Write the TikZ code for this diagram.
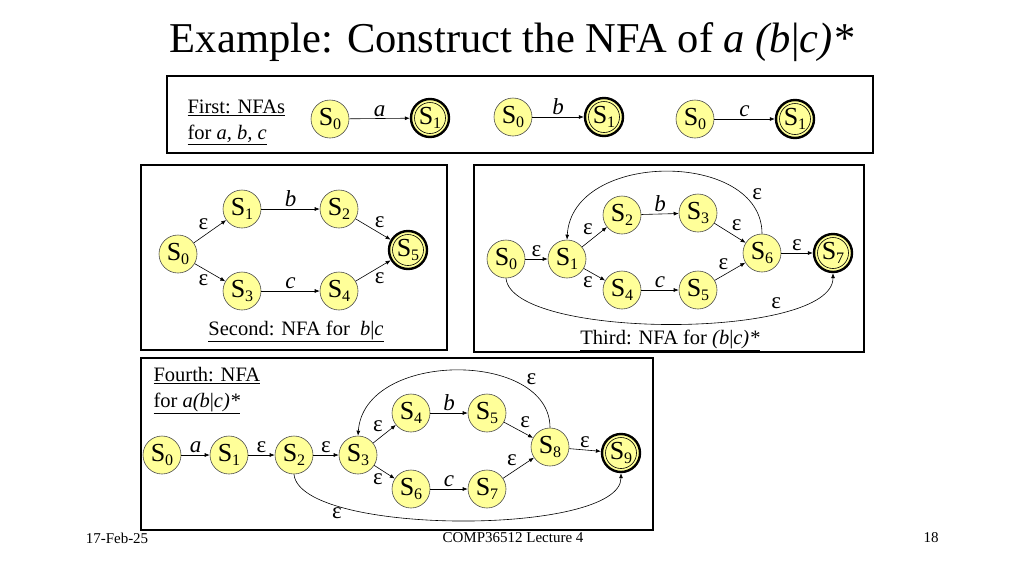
\documentclass[tikz,border=0pt]{standalone}
\usepackage{fontspec}
\setmainfont{Liberation Serif}
\usetikzlibrary{arrows.meta}
\definecolor{stfill}{RGB}{255,255,153}
\newcommand{\sname}[1]{S\raisebox{-4pt}{\fontsize{16}{16}\selectfont #1}}

\begin{document}
\begin{tikzpicture}[x=1pt,y=-1pt,
  st/.style={circle,draw=black!70,fill=stfill,line width=0.6pt,minimum size=38pt,inner sep=0pt,font=\fontsize{26}{26}\selectfont},
  acc/.style={st,draw=black,line width=2.4pt,path picture={\draw[line width=0.6pt,black] (path picture bounding box.center) circle[radius=15.5pt];}},
  tr/.style={-{Latex[length=5pt,width=4pt]},line width=0.6pt},
  lbl/.style={font=\fontsize{23}{23}\selectfont,inner sep=1.5pt},
  panel/.style={draw,line width=1.5pt},
  captxt/.style={font=\fontsize{20.5}{26}\selectfont,align=left}]
  \useasboundingbox (0,0) rectangle (1024,576);

  \node (title) at (512,42) {\fontsize{42.5}{44}\selectfont Example: Construct the NFA of \textit{a (b}|\textit{c)*}};

  % first: NFAs for a, b, c
  \draw[panel] (167,76) rectangle (873,153);
  \node[captxt,anchor=west] (cap1) at (184,122) {\underline{First: NFAs}\\\underline{for \textit{a, b, c}}};
  \node[st] (a0) at (330,119) {\sname0};
  \node[acc] (a1) at (430,118) {\sname1};
  \node[st] (b0) at (513,117) {\sname0};
  \node[acc] (b1) at (604,117) {\sname1};
  \node[st] (c0) at (695,119) {\sname0};
  \node[acc] (c1) at (795,119) {\sname1};
  \draw[tr] (a0) -- node[lbl,above]{\textit{a}} (a1);
  \draw[tr] (b0) -- node[lbl,above]{\textit{b}} (b1);
  \draw[tr] (c0) -- node[lbl,above]{\textit{c}} (c1);

  % second: b|c
  \draw[panel] (141,165) rectangle (447,350);
  \node[st] (p0) at (178,254) {\sname0};
  \node[st] (p1) at (242,209) {\sname1};
  \node[st] (p2) at (339,209) {\sname2};
  \node[st] (p3) at (242,291) {\sname3};
  \node[st] (p4) at (339,291) {\sname4};
  \node[acc] (p5) at (408,250) {\sname5};
  \draw[tr] (p0) -- node[lbl,above left]{ε} (p1);
  \draw[tr] (p0) -- node[lbl,below left]{ε} (p3);
  \draw[tr] (p1) -- node[lbl,above]{\textit{b}} (p2);
  \draw[tr] (p3) -- node[lbl,above]{\textit{c}} (p4);
  \draw[tr] (p2) -- node[lbl,above right]{ε} (p5);
  \draw[tr] (p4) -- node[lbl,below right]{ε} (p5);
  \node[captxt] (cap2) at (296,331) {\underline{Second: NFA for \ \textit{b}|\textit{c}}};

  % third: (b|c)*
  \draw[panel] (474,165) rectangle (864,352);
  \node[st] (q0) at (506,259) {\sname0};
  \node[st] (q1) at (567,259) {\sname1};
  \node[st] (q2) at (622,215) {\sname2};
  \node[st] (q3) at (698,213) {\sname3};
  \node[st] (q4) at (622,290) {\sname4};
  \node[st] (q5) at (698,290) {\sname5};
  \node[st] (q6) at (762,253) {\sname6};
  \node[acc] (q7) at (833,253) {\sname7};
  \draw[tr] (q0) -- node[lbl,above]{ε} (q1);
  \draw[tr] (q1) -- node[lbl,above left]{ε} (q2);
  \draw[tr] (q1) -- node[lbl,below left]{ε} (q4);
  \draw[tr] (q2) -- node[lbl,above]{\textit{b}} (q3);
  \draw[tr] (q4) -- node[lbl,above]{\textit{c}} (q5);
  \draw[tr] (q3) -- node[lbl,above right]{ε} (q6);
  \draw[tr] (q5) -- node[lbl,above left]{ε} (q6);
  \draw[tr] (q6) -- node[lbl,above]{ε} (q7);
  \draw[tr] (q6.north) .. controls (762,150) and (572,150) .. node[lbl,pos=.15,above right]{ε} (q1.north);
  \draw[tr] (q0.south) .. controls (512,340) and (833,340) .. node[lbl,pos=.75,above left]{ε} (q7.south);
  \node[captxt] (cap3) at (670,340) {\underline{Third: NFA for \textit{(b}|\textit{c)*}}};

  % fourth: a(b|c)*
  \draw[panel] (141,358) rectangle (653,530);
  \node[captxt,anchor=north west] (cap4) at (150,364) {\underline{Fourth: NFA}\\\underline{for \textit{a(b}|\textit{c)*}}};
  \node[st] (r0) at (162,455) {\sname0};
  \node[st] (r1) at (229,455) {\sname1};
  \node[st] (r2) at (294,455) {\sname2};
  \node[st] (r3) at (358,455) {\sname3};
  \node[st] (r4) at (411,413) {\sname4};
  \node[st] (r5) at (487,413) {\sname5};
  \node[st] (r6) at (411,489) {\sname6};
  \node[st] (r7) at (487,489) {\sname7};
  \node[st] (r8) at (550,447) {\sname8};
  \node[acc] (r9) at (621,453) {\sname9};
  \draw[tr] (r0) -- node[lbl,above]{\textit{a}} (r1);
  \draw[tr] (r1) -- node[lbl,above]{ε} (r2);
  \draw[tr] (r2) -- node[lbl,above]{ε} (r3);
  \draw[tr] (r3) -- node[lbl,above left]{ε} (r4);
  \draw[tr] (r3) -- node[lbl,below left]{ε} (r6);
  \draw[tr] (r4) -- node[lbl,above]{\textit{b}} (r5);
  \draw[tr] (r6) -- node[lbl,above]{\textit{c}} (r7);
  \draw[tr] (r5) -- node[lbl,above right]{ε} (r8);
  \draw[tr] (r7) -- node[lbl,above left]{ε} (r8);
  \draw[tr] (r8) -- node[lbl,above]{ε} (r9);
  \draw[tr] (r8.north) .. controls (550,350) and (364,350) .. node[lbl,pos=.23,above right]{ε} (r3.north);
  \draw[tr] (r2.south) .. controls (300,536) and (621,536) .. node[lbl,pos=.22,below]{ε} (r9.south);

  % footer
  \node[font=\fontsize{15}{15}\selectfont] (date) at (117,538) {17-Feb-25};
  \node[font=\fontsize{15}{15}\selectfont] (course) at (513,538) {COMP36512 Lecture 4};
  \node[font=\fontsize{15}{15}\selectfont] (page) at (931,538) {18};
\end{tikzpicture}
\end{document}
